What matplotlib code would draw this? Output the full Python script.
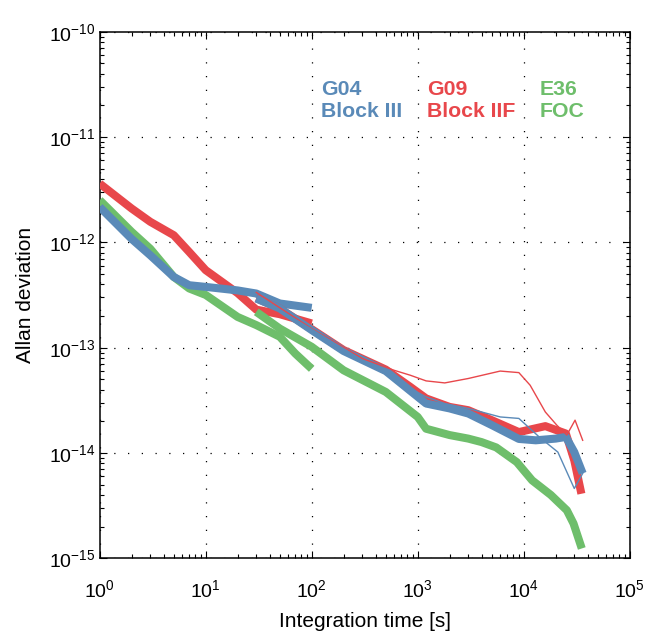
import matplotlib
matplotlib.use("Agg")
import matplotlib.pyplot as plt
from matplotlib.ticker import LogLocator, NullFormatter

plt.rcParams['font.family'] = ['Liberation Sans', 'DejaVu Sans']
plt.rcParams['mathtext.fontset'] = 'custom'
plt.rcParams['mathtext.rm'] = 'Liberation Sans'
plt.rcParams['mathtext.it'] = 'Liberation Sans:italic'

# ---- data ----
g04_tau_a = [1, 2, 3, 5, 7, 10, 20, 30, 50, 100]
g04_adev_a = [2.17e-12, 1.08e-12, 7.55e-13, 4.7e-13, 3.92e-13, 3.78e-13, 3.5e-13, 3.27e-13, 2.63e-13, 2.39e-13]
g04_tau_b = [30, 50, 100, 200, 500, 850, 1200, 2000, 3000, 5000, 9000, 13000, 20000, 25000, 30000, 36000]
g04_adev_b = [2.93e-13, 2.36e-13, 1.47e-13, 9.3e-14, 6.0e-14, 3.9e-14, 2.95e-14, 2.65e-14, 2.37e-14, 1.84e-14,
              1.36e-14, 1.32e-14, 1.37e-14, 1.42e-14, 1.02e-14, 6.4e-15]
g04_tau_c = [30, 100, 300, 850, 1200, 1800, 3000, 6000, 9000, 14000, 21000, 30000, 36000]
g04_adev_c = [3.05e-13, 1.5e-13, 7.6e-14, 4.1e-14, 3.41e-14, 2.95e-14, 2.65e-14, 2.2e-14, 2.13e-14,
              1.42e-14, 1.02e-14, 4.6e-15, 6.4e-15]

g09_tau_a = [1, 2, 3, 5, 7, 10, 20, 30, 50, 100]
g09_adev_a = [3.62e-12, 2.1e-12, 1.57e-12, 1.17e-12, 8.1e-13, 5.45e-13, 3.3e-13, 2.3e-13, 2.08e-13, 1.7e-13]
g09_tau_b = [30, 50, 100, 200, 500, 850, 1200, 2000, 3000, 5000, 9000, 16000, 25000, 30000, 35000]
g09_adev_b = [2.95e-13, 2.35e-13, 1.5e-13, 9.5e-14, 6.2e-14, 4.25e-14, 3.3e-14, 2.74e-14, 2.55e-14, 2.05e-14,
              1.58e-14, 1.8e-14, 1.53e-14, 8.5e-15, 4.1e-15]
g09_tau_c = [30, 100, 300, 600, 850, 1200, 1800, 3000, 6000, 9000, 11500, 16000, 20500, 25500, 30500, 36000]
g09_adev_c = [3.35e-13, 1.52e-13, 7.9e-14, 6.1e-14, 5.48e-14, 4.84e-14, 4.63e-14, 5.1e-14, 6.0e-14, 5.8e-14,
              4.4e-14, 2.45e-14, 1.84e-14, 1.48e-14, 2.05e-14, 1.32e-14]

e36_tau_a = [1, 2, 3, 5, 7, 10, 20, 30, 50, 70, 100]
e36_adev_a = [2.52e-12, 1.26e-12, 8.7e-13, 4.7e-13, 3.65e-13, 3.17e-13, 1.96e-13, 1.64e-13, 1.27e-13, 8.8e-14, 6.3e-14]
e36_tau_b = [30, 50, 100, 200, 500, 1000, 1200, 2000, 3000, 4000, 5500, 8600, 12000, 18000, 25500, 29500, 35300]
e36_adev_b = [2.19e-13, 1.52e-13, 1.02e-13, 6.1e-14, 3.8e-14, 2.2e-14, 1.7e-14, 1.48e-14, 1.37e-14, 1.27e-14,
              1.13e-14, 8.2e-15, 5.5e-15, 4.0e-15, 2.86e-15, 2.14e-15, 1.24e-15]

c_blue, c_red, c_green = "#5A8AB8", "#E8474B", "#6EBE6B"
labels = [("G04\nBlock III", c_blue), ("G09\nBlock IIF", c_red), ("E36\nFOC", c_green)]

fig = plt.figure(figsize=(6.46, 6.32), dpi=100)
ax = fig.add_axes([0.1543, 0.1166, 0.8205, 0.8331])

lw = 5.8
ax.loglog(e36_tau_a, e36_adev_a, color=c_green, lw=lw, solid_capstyle='butt', zorder=3)
ax.loglog(g09_tau_a, g09_adev_a, color=c_red, lw=lw, solid_capstyle='butt', zorder=3)
ax.loglog(g04_tau_a, g04_adev_a, color=c_blue, lw=lw, solid_capstyle='butt', zorder=3)
ax.loglog(e36_tau_b, e36_adev_b, color=c_green, lw=lw, solid_capstyle='butt', zorder=3)
ax.loglog(g09_tau_b, g09_adev_b, color=c_red, lw=lw, solid_capstyle='butt', zorder=3)
ax.loglog(g04_tau_b, g04_adev_b, color=c_blue, lw=lw, solid_capstyle='butt', zorder=3)
ax.loglog(g09_tau_c, g09_adev_c, color=c_red, lw=1.0, zorder=4)
ax.loglog(g04_tau_c, g04_adev_c, color=c_blue, lw=1.0, zorder=4)

ax.set_xlim(1, 1e5)
ax.set_ylim(1e-15, 1e-10)
ax.xaxis.set_major_locator(LogLocator(base=10, numticks=10))
ax.yaxis.set_major_locator(LogLocator(base=10, numticks=10))
ax.xaxis.set_minor_locator(LogLocator(base=10, subs=range(2, 10), numticks=20))
ax.yaxis.set_minor_locator(LogLocator(base=10, subs=range(2, 10), numticks=20))
ax.xaxis.set_minor_formatter(NullFormatter())
ax.yaxis.set_minor_formatter(NullFormatter())

ax.tick_params(which='both', direction='in', top=True, right=True, labelsize=14, width=0.8)
ax.tick_params(which='major', length=5)
ax.tick_params(which='minor', length=3)
ax.tick_params(axis='y', which='major', pad=3)
ax.tick_params(axis='x', which='major', pad=15)
ax.grid(True, which='major', color='black', linestyle=(0, (1, 10)), linewidth=0.9)
for s in ax.spines.values():
    s.set_linewidth(1.1)

ax.set_xlabel("Integration time [s]", fontsize=15, labelpad=8)
ax.set_ylabel("Allan deviation", fontsize=15, labelpad=10)

xs = [321, 427, 540]
for (txt, col), xp in zip(labels, xs):
    fig.text(xp / 646, 1 - 100.5 / 632, txt, color=col, fontsize=15.3, fontweight='bold',
             va='center', ha='left', linespacing=1.15)

fig.savefig("out.png", dpi=100)
